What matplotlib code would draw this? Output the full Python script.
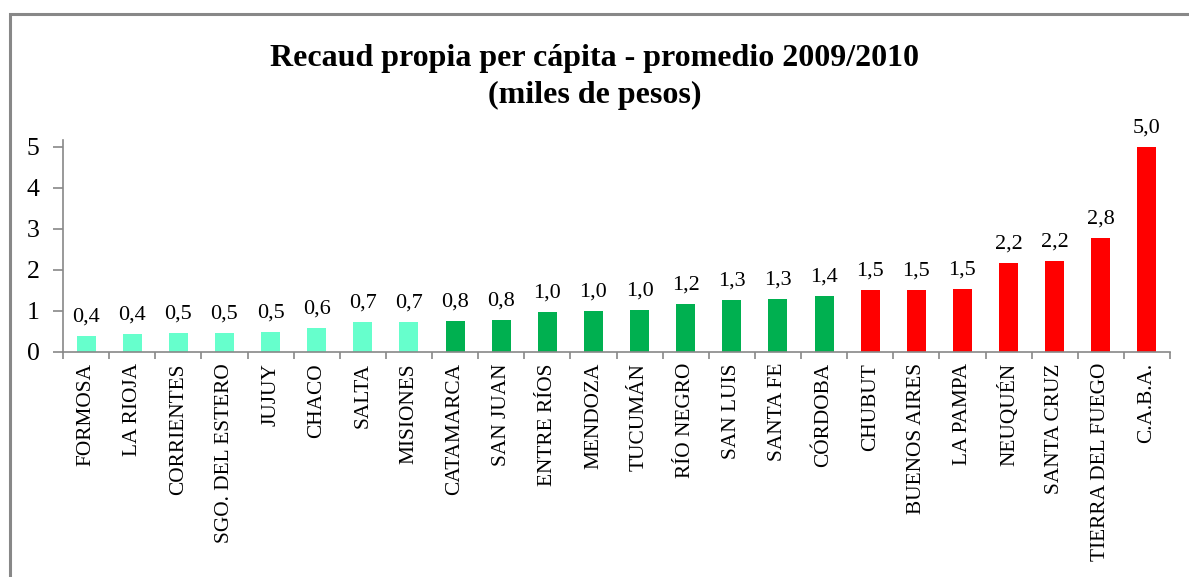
import numpy as np
import matplotlib
matplotlib.use("Agg")
import matplotlib.pyplot as plt
from matplotlib.patches import Rectangle

plt.rcParams['font.family'] = ['Liberation Serif', 'DejaVu Serif']

# Datos (miles de pesos per cápita)
provincias = ["FORMOSA", "LA RIOJA", "CORRIENTES", "SGO. DEL ESTERO", "JUJUY", "CHACO",
              "SALTA", "MISIONES", "CATAMARCA", "SAN JUAN", "ENTRE RÍOS", "MENDOZA",
              "TUCUMÁN", "RÍO NEGRO", "SAN LUIS", "SANTA FE", "CÓRDOBA", "CHUBUT",
              "BUENOS AIRES", "LA PAMPA", "NEUQUÉN", "SANTA CRUZ", "TIERRA DEL FUEGO", "C.A.B.A."]
valores = [0.38, 0.43, 0.46, 0.46, 0.48, 0.58, 0.73, 0.73, 0.76, 0.78, 0.97, 1.00,
           1.02, 1.17, 1.26, 1.29, 1.36, 1.50, 1.50, 1.53, 2.16, 2.21, 2.78, 4.99]
grupos = [0] * 8 + [1] * 9 + [2] * 7
colores_grupo = ['#66FFCC', '#00B050', '#FF0000']

fig = plt.figure(figsize=(11.89, 5.77), dpi=100)
ax = fig.add_axes([63 / 1189, 225 / 577, 1107 / 1189, 212 / 577])

x = np.arange(len(provincias))
colores = [colores_grupo[g] for g in grupos]
ax.bar(x, valores, width=0.41, color=colores, zorder=2)

for xi, v in zip(x, valores):
    ax.annotate(f"{v:.1f}".replace('.', ','), (xi, v), xytext=(0, 10.5),
                textcoords='offset points', ha='center', va='baseline', fontsize=16)

ax.set_xlim(-0.5, len(provincias) - 0.5)
ax.set_ylim(0, 5.17)
ax.set_yticks(range(6))
ax.set_yticklabels([str(i) for i in range(6)], fontsize=18.5)

ax.set_xticks(x)
ax.set_xticklabels(provincias, rotation=90, fontsize=15.4, va='top')
ax.set_xticks(np.arange(len(provincias) + 1) - 0.5, minor=True)
ax.tick_params(axis='x', which='major', length=0, pad=8)
ax.tick_params(axis='x', which='minor', length=5, width=1.2, color='#888888', direction='out')
ax.tick_params(axis='y', length=7, width=1.2, color='#888888', pad=10)

for s in ['top', 'right']:
    ax.spines[s].set_visible(False)
for s in ['left', 'bottom']:
    ax.spines[s].set_color('#888888')
    ax.spines[s].set_linewidth(1.2)

fig.text(595 / 1189, 1 - 77 / 577, "Recaud propia per cápita - promedio 2009/2010\n(miles de pesos)",
         ha='center', va='center', fontsize=23, fontweight='bold', linespacing=1.4)

# marco del gráfico
fig.patches.append(Rectangle((9.5 / 1189, -0.1), 1.2, 1 - 14 / 577 + 0.1, transform=fig.transFigure,
                             fill=False, edgecolor='#888888', linewidth=2.2))

fig.savefig("out.png", dpi=100)
